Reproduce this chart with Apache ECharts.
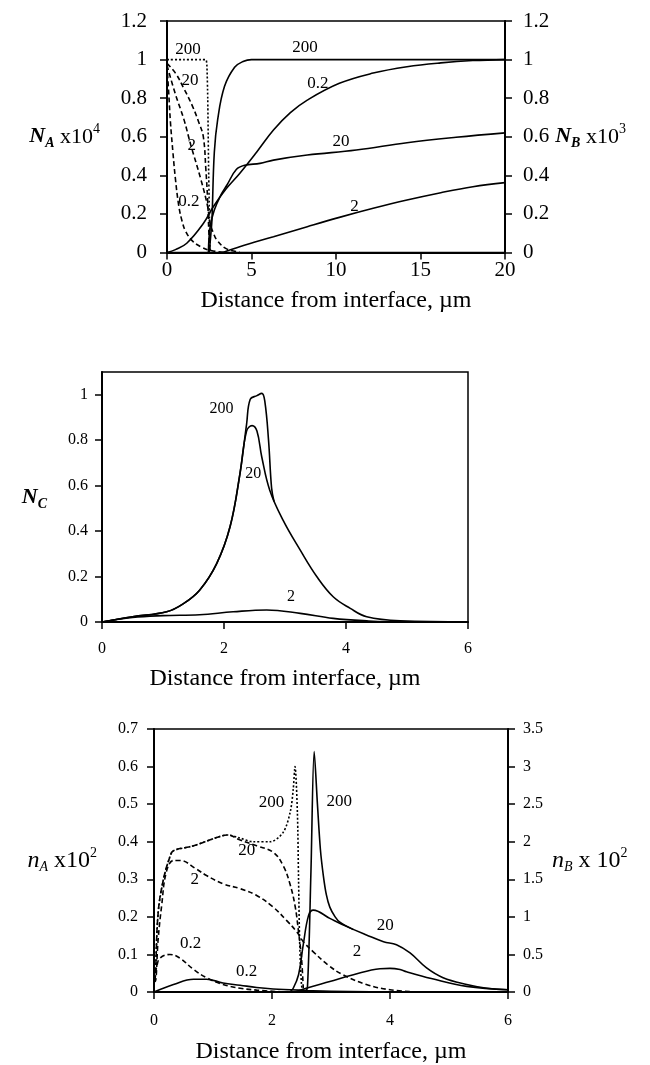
<!DOCTYPE html>
<html>
<head>
<meta charset="utf-8">
<script src="https://cdn.jsdelivr.net/npm/echarts@6/dist/echarts.min.js"></script>
<style>
  html, body { margin: 0; background: #fff; }
  #chart { width: 650px; height: 1065px; }
</style>
</head>
<body>
<div id="chart"></div>
<script>
var SERIF = 'Liberation Serif';

// ---- panel 1: N_A x10^4 (dashed) and N_B x10^3 (solid), x in um
var naCurve200 = [[0, 1], [1, 1], [2, 1], [2.3, 1], [2.36, 0.97], [2.41, 0.8], [2.46, 0.45], [2.5, 0.24], [2.55, 0]];
var naCurve20 = [[0, 0.98], [0.5, 0.93], [1, 0.85], [1.5, 0.76], [1.9, 0.67], [2.15, 0.6], [2.3, 0.43], [2.4, 0.28], [2.48, 0.1], [2.55, 0]];
var naCurve2 = [[0, 0.97], [0.5, 0.82], [1, 0.69], [1.4, 0.56], [2, 0.38], [2.4, 0.24], [2.55, 0.15], [2.75, 0.1], [2.95, 0.065], [3.5, 0.02], [4.3, 0.003]];
var naCurve02 = [[0, 0.97], [0.1, 0.83], [0.2, 0.68], [0.35, 0.52], [0.5, 0.38], [0.7, 0.24], [0.9, 0.16], [1.1, 0.11], [1.5, 0.06], [2, 0.03], [2.6, 0.01], [3.5, 0]];
var nbCurve200 = [[2.5, 0], [2.6, 0.1], [2.66, 0.17], [2.8, 0.52], [3, 0.69], [3.4, 0.86], [4, 0.96], [4.5, 0.99], [5, 1], [20, 1]];
var nbCurve20 = [[2.45, 0], [2.55, 0.13], [2.8, 0.22], [3.2, 0.3], [3.55, 0.35], [4.1, 0.43], [4.6, 0.452], [5.5, 0.462], [6.3, 0.479], [8.3, 0.505], [11.2, 0.531], [14.2, 0.569], [17.1, 0.597], [20, 0.62]];
var nbCurve2 = [[3.3, 0], [4.3, 0.03], [6.3, 0.082], [8.3, 0.134], [10.2, 0.182], [12.2, 0.229], [14.2, 0.272], [16.2, 0.31], [18.1, 0.341], [20, 0.362]];
var nbCurve02 = [[0, 0], [0.5, 0.015], [1.17, 0.048], [2.15, 0.15], [2.74, 0.237], [3.5, 0.33], [4.3, 0.41], [5.3, 0.52], [6.3, 0.635], [7.3, 0.725], [8.3, 0.79], [10.2, 0.877], [12.2, 0.93], [14.2, 0.963], [16.2, 0.983], [18.1, 0.995], [20, 1]];
var panel1Labels = [['200', 1.24, 1.054], ['20', 1.36, 0.894], ['2', 1.46, 0.557], ['0.2', 1.3, 0.262],
                    ['200', 8.17, 1.06], ['0.2', 8.93, 0.878], ['20', 10.3, 0.573], ['2', 11.1, 0.236]];

// ---- panel 2: N_C
var nc200 = [[0, 0], [0.5, 0.023], [1.06, 0.045], [1.33, 0.08], [1.6, 0.14], [1.88, 0.257], [2.1, 0.42], [2.26, 0.65], [2.37, 0.87], [2.43, 0.98], [2.54, 0.996], [2.62, 1.006], [2.67, 0.97], [2.73, 0.8], [2.78, 0.59], [2.82, 0.53]];
var nc20 = [[0, 0], [0.5, 0.023], [1.06, 0.045], [1.33, 0.08], [1.6, 0.14], [1.88, 0.257], [2.1, 0.42], [2.26, 0.65], [2.37, 0.84], [2.46, 0.864], [2.54, 0.84], [2.62, 0.725], [2.75, 0.58], [2.97, 0.447], [3.25, 0.316], [3.52, 0.2], [3.79, 0.111], [4.07, 0.06], [4.34, 0.023], [4.89, 0.005], [6, 0]];
var nc2 = [[0, 0], [0.5, 0.02], [1, 0.028], [1.6, 0.032], [2.15, 0.045], [2.7, 0.053], [3.25, 0.038], [3.79, 0.016], [4.34, 0.005], [4.9, 0], [6, 0]];
var panel2Ticks = [0, 0.2, 0.4, 0.6, 0.8, 1];
var panel2Labels = [['200', 1.96, 0.94], ['20', 2.48, 0.65], ['2', 3.1, 0.11]];

// ---- panel 3: n_A x10^2 (dashed, left) and n_B x10^2 (solid, right)
var nA200 = [[0, 0.03], [0.02, 0.037], [0.07, 0.21], [0.16, 0.3], [0.27, 0.36], [0.33, 0.376], [0.67, 0.389], [1.06, 0.411], [1.25, 0.418], [1.45, 0.41], [1.68, 0.4], [1.97, 0.4], [2.19, 0.425], [2.31, 0.48], [2.36, 0.54], [2.39, 0.6], [2.43, 0.48], [2.45, 0.3], [2.47, 0.125], [2.5, 0.02], [2.52, 0]];
var nA20 = [[0, 0.03], [0.02, 0.037], [0.07, 0.21], [0.16, 0.3], [0.27, 0.36], [0.33, 0.376], [0.67, 0.389], [1.06, 0.411], [1.25, 0.418], [1.45, 0.405], [1.74, 0.389], [2.02, 0.372], [2.19, 0.336], [2.3, 0.29], [2.39, 0.23], [2.45, 0.16], [2.5, 0.09], [2.53, 0.01]];
var nA2 = [[0, 0.03], [0.02, 0.028], [0.07, 0.14], [0.13, 0.23], [0.21, 0.32], [0.33, 0.35], [0.44, 0.35], [0.72, 0.327], [0.89, 0.31], [1.17, 0.288], [1.46, 0.275], [1.74, 0.257], [2.02, 0.226], [2.25, 0.19], [2.42, 0.16], [2.53, 0.134], [2.7, 0.107], [2.95, 0.072], [3.2, 0.046], [3.6, 0.02], [4, 0.006], [4.5, 0]];
var nA02 = [[0, 0.03], [0.05, 0.07], [0.1, 0.09], [0.27, 0.1], [0.44, 0.09], [0.67, 0.06], [0.89, 0.038], [1.17, 0.02], [1.46, 0.01], [1.74, 0.005], [2.2, 0]];
var nB200 = [[2.55, 0], [2.6, 0.05], [2.66, 1.6], [2.715, 3.2], [2.77, 2.5], [2.82, 1.9], [2.87, 1.55], [2.92, 1.3], [2.98, 1.13], [3.07, 1], [3.15, 0.93], [3.38, 0.83]];
var nB20 = [[2.3, 0], [2.36, 0.05], [2.45, 0.23], [2.53, 0.63], [2.62, 1.02], [2.7, 1.09], [2.98, 0.98], [3.27, 0.87], [3.6, 0.76], [3.89, 0.67], [4.11, 0.63], [4.34, 0.52], [4.62, 0.32], [4.9, 0.19], [5.3, 0.1], [5.64, 0.05], [6, 0.03]];
var nB2 = [[2.4, 0], [2.58, 0.05], [2.98, 0.14], [3.38, 0.23], [3.83, 0.31], [4, 0.315], [4.17, 0.3], [4.28, 0.27], [4.7, 0.18], [5.3, 0.075], [6, 0.03]];
var nB02 = [[0, 0], [0.33, 0.1], [0.67, 0.17], [0.89, 0.17], [1.17, 0.12], [1.46, 0.09], [1.74, 0.06], [2.02, 0.04], [2.31, 0.03], [2.6, 0.02], [3, 0.01], [4, 0]];
var panel3Labels = [['200', 1.99, 0.505], ['20', 1.57, 0.376], ['2', 0.69, 0.3], ['0.2', 0.62, 0.13], ['0.2', 1.57, 0.055],
                    ['200', 3.14, 0.508], ['20', 3.92, 0.178], ['2', 3.44, 0.107]];

var xTitle = 'Distance from interface, \u00b5m';

function curve(data, xi, yi, dash, smooth) {
	return {
		type: 'line', xAxisIndex: xi, yAxisIndex: yi, data: data,
		symbol: 'none', smooth: smooth == null ? 0.4 : smooth, silent: true,
		lineStyle: { color: '#000', width: 1.6, type: dash || 'solid' }
	};
}

function labels(list, xi, yi, size) {
	return {
		type: 'scatter', xAxisIndex: xi, yAxisIndex: yi, symbolSize: 0, silent: true, z: 5,
		itemStyle: { color: '#000', opacity: 1 },
		data: list.map(function(d) { return { name: d[0], value: [d[1], d[2]] }; }),
		label: {
			show: true, position: 'inside', formatter: '{b}', color: '#000',
			textBorderWidth: 0, fontSize: size, fontFamily: SERIF
		}
	};
}

function xAx(grid, max, interval, fs, margin, gap) {
	return {
		gridIndex: grid, type: 'value', min: 0, max: max, interval: interval,
		axisLine: { show: true, lineStyle: { color: '#000', width: 2 } },
		axisTick: { show: true, length: 7, lineStyle: { color: '#000', width: 1.5 } },
		axisLabel: { color: '#000', fontSize: fs, fontFamily: SERIF, margin: margin },
		splitLine: { show: false },
		name: xTitle, nameLocation: 'middle', nameGap: gap,
		nameTextStyle: { color: '#000', fontSize: 24, fontFamily: SERIF }
	};
}

function yAx(grid, max, interval, pos, fs, margin, name, gap, rich) {
	return {
		gridIndex: grid, type: 'value', min: 0, max: max, interval: interval, position: pos,
		axisLine: { show: true, lineStyle: { color: '#000', width: 2 } },
		axisTick: { show: true, length: 7, lineStyle: { color: '#000', width: 1.5 } },
		axisLabel: { color: '#000', fontSize: fs, fontFamily: SERIF, margin: margin },
		splitLine: { show: false },
		name: name, nameLocation: 'middle', nameRotate: 0, nameGap: gap,
		nameTextStyle: { color: '#000', fontFamily: SERIF, fontSize: 22, rich: rich }
	};
}

function richName(bold, big) {
	var base = { fontFamily: SERIF, color: '#000', fontStyle: 'italic', fontWeight: bold ? 'bold' : 'normal' };
	return {
		v: Object.assign({ fontSize: big, lineHeight: 28 }, base),
		s: Object.assign({ fontSize: 14, verticalAlign: 'bottom' }, base),
		t: { fontFamily: SERIF, color: '#000', fontSize: big, lineHeight: 28 },
		p: { fontFamily: SERIF, color: '#000', fontSize: 14, verticalAlign: 'top' }
	};
}

var mychart = echarts.init(document.getElementById('chart'), null, { renderer: 'canvas' });

var gridStyle = { show: true, borderColor: '#000', borderWidth: 1.5, backgroundColor: 'transparent' };

var option = {
	animation: false,
	backgroundColor: '#fff',
	textStyle: { fontFamily: SERIF },
	grid: [
		Object.assign({ left: 167, right: 145, top: 21, height: 231.5 }, gridStyle),
		Object.assign({ left: 102, right: 182, top: 372, height: 250 }, gridStyle),
		Object.assign({ left: 154, right: 142, top: 729, height: 265 }, gridStyle)
	],
	xAxis: [
		xAx(0, 20, 5, 21, 7, 36),
		xAx(1, 6, 2, 16, 19, 45),
		xAx(2, 6, 2, 16, 21, 48)
	],
	yAxis: [
		yAx(0, 1.2, 0.2, 'left', 21, 20, '{v|N}{s|A}{t| x10}{p|4}', 67, richName(true, 22)),
		yAx(0, 1.2, 0.2, 'right', 21, 18, '{v|N}{s|B}{t| x10}{p|3}', 46, richName(true, 22)),
		yAx(1, 1.1, null, 'left', 16, 14, '{v|N}{s|C}', 55, richName(true, 22)),
		yAx(2, 0.7, 0.1, 'left', 16, 16, '{v|n}{s|A}{t| x10}{p|2}', 57, richName(false, 24)),
		yAx(2, 3.5, 0.5, 'right', 16, 15, '{v|n}{s|B}{t| x 10}{p|2}', 44, richName(false, 24))
	],
	series: [
		curve(naCurve200, 0, 0, [2, 2], 0.2),
		curve(naCurve20, 0, 0, [5, 3]),
		curve(naCurve2, 0, 0, [5, 3]),
		curve(naCurve02, 0, 0, [5, 3]),
		curve(nbCurve200, 0, 1),
		curve(nbCurve20, 0, 1),
		curve(nbCurve2, 0, 1),
		curve(nbCurve02, 0, 1),
		labels(panel1Labels, 0, 0, 17),

		curve(nc200, 1, 2),
		curve(nc20, 1, 2),
		curve(nc2, 1, 2),
		labels(panel2Labels, 1, 2, 16),

		curve(nA200, 2, 3, [2, 2], 0.3),
		curve(nA20, 2, 3, [5, 3]),
		curve(nA2, 2, 3, [5, 3]),
		curve(nA02, 2, 3, [5, 3]),
		curve(nB200, 2, 4, null, 0.3),
		curve(nB20, 2, 4),
		curve(nB2, 2, 4),
		curve(nB02, 2, 4),
		labels(panel3Labels, 2, 3, 17)
	]
};

option.yAxis[2].axisLabel.customValues = panel2Ticks;
option.yAxis[2].axisTick.customValues = panel2Ticks;

mychart.setOption(option);
</script>
</body>
</html>
